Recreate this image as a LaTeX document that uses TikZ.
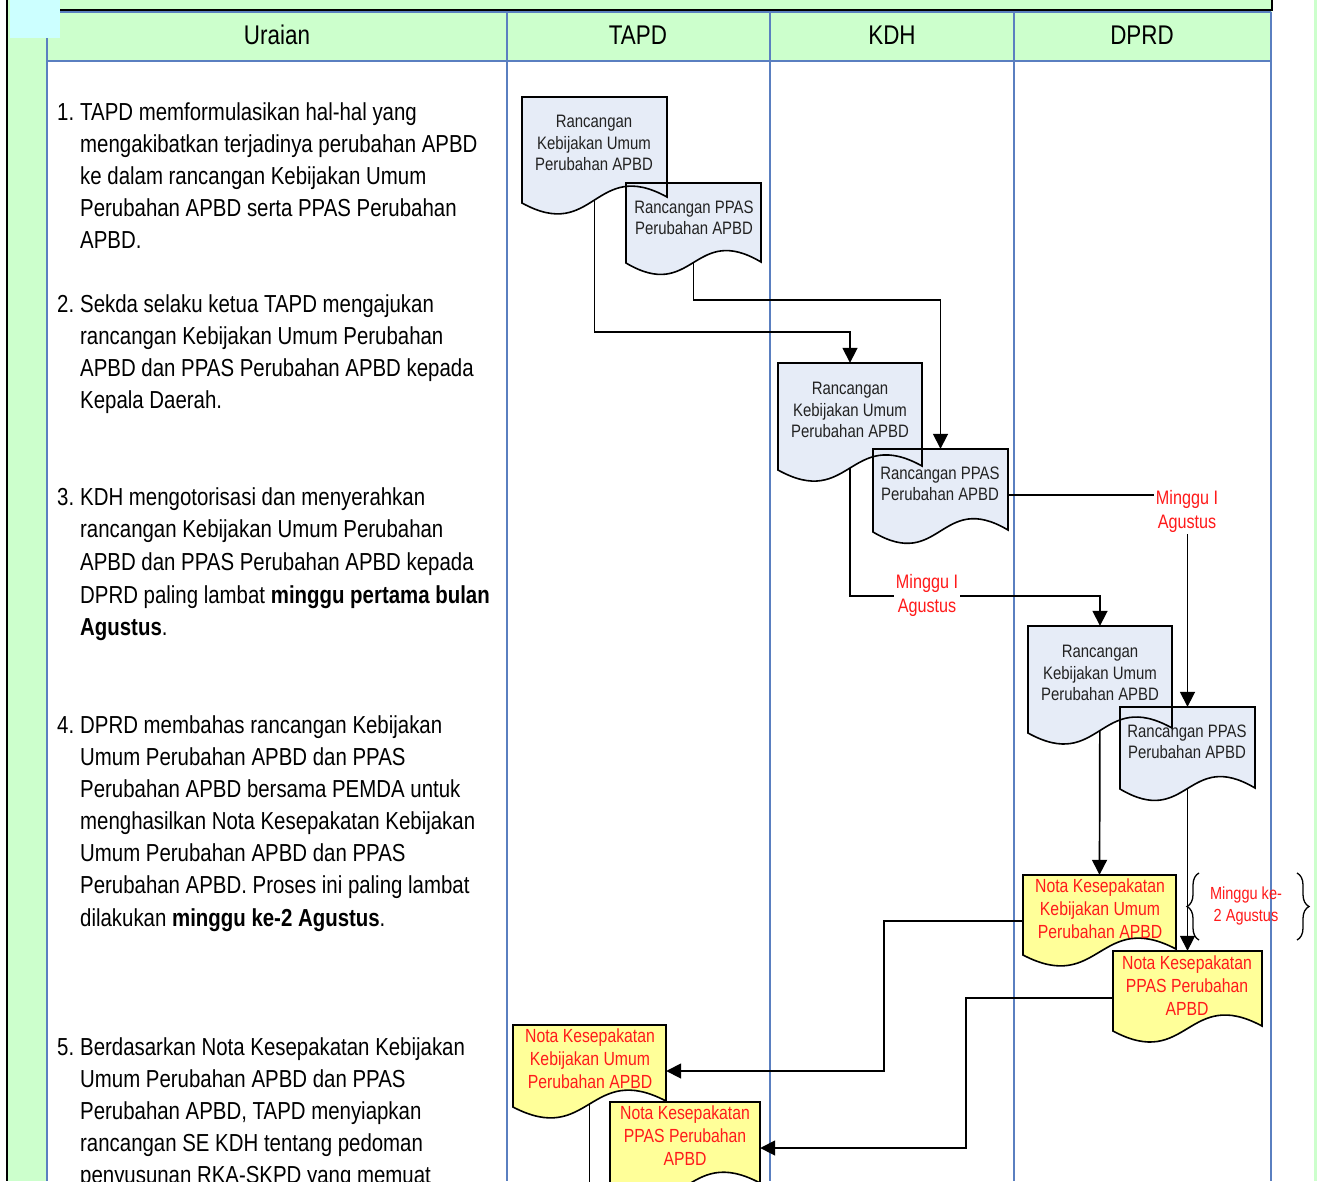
\documentclass[tikz,border=0pt]{standalone}
\usepackage{fontspec}
\setmainfont{Liberation Sans}[FakeStretch=0.83]
\usetikzlibrary{arrows.meta,decorations.pathreplacing,calc}
\definecolor{hdrgreen}{HTML}{CCFFCC}
\definecolor{cyanbox}{HTML}{CCFFFF}
\definecolor{colblue}{HTML}{5A7FC0}
\definecolor{docblue}{HTML}{E6ECF7}
\definecolor{docyellow}{HTML}{FFFF99}
\definecolor{txtred}{HTML}{FF1A1A}
\definecolor{doctext}{HTML}{222222}
\newcommand\docfill[6]{\fill[#6] (#1,#2) -- (#3,#2) -- (#3,#5) .. controls ({(#1+#3)/2},{#5-40}) and ({(#1+#3)/2},{#4+40}) .. (#1,#4) -- cycle;}
\newcommand\docdraw[5]{\draw[docline] (#1,#2) -- (#3,#2) -- (#3,#5) .. controls ({(#1+#3)/2},{#5-40}) and ({(#1+#3)/2},{#4+40}) .. (#1,#4) -- cycle;}
\newcommand\numline[3]{\node[bodytxt, anchor=base west] (n#1) at (57,#2+8.5) {#3};}
\newcommand\tline[3]{\node[bodytxt, anchor=base west] (t#1) at (80,#2+8.5) {#3};}
\begin{document}
\begin{tikzpicture}[x=1pt,y=-1pt,
  bodytxt/.style={inner sep=0pt, font=\fontsize{24.6}{32}\selectfont, text=black},
  hdrtxt/.style={inner sep=0pt, font=\fontsize{27}{32}\selectfont, text=black},
  docbox/.style={draw=none, inner sep=0pt, rectangle},
  doctxt/.style={inner sep=0pt, align=center, font=\fontsize{18}{21.5}\selectfont, text=doctext},
  notatxt/.style={inner sep=0pt, align=center, font=\fontsize{19}{23}\selectfont, text=txtred},
  redlab/.style={inner sep=2pt, align=center, fill=white, font=\fontsize{19.5}{24}\selectfont, text=txtred},
  bracelab/.style={inner sep=0pt, align=center, font=\fontsize{17.5}{22}\selectfont, text=txtred},
  docline/.style={draw=black, line width=1.6pt, line join=miter},
  conn/.style={draw=black, line width=1.7pt, -{Triangle[length=15pt,width=15pt]}},
  plain/.style={draw=black, line width=1.7pt},
  colline/.style={draw=colblue, line width=1.3pt},
  bracestyle/.style={draw=black, line width=1.3pt, decorate, decoration={brace, amplitude=12pt}}
]
\useasboundingbox (0,0) rectangle (1317,1181);
\clip (0,0) rectangle (1317,1181);
% background
\fill[white] (0,0) rectangle (1317,1181);
\fill[hdrgreen] (8,0) rectangle (1272,1181);
\fill[hdrgreen] (1314,0) rectangle (1317,1181);
\fill[cyanbox] (10,0) rectangle (60,38);
\fill[white] (47,61) rectangle (1271,1181);
% grid lines
\draw[colline] (60,12) -- (1271,12);
\draw[colline] (47,61) -- (1271,61);
\draw[colline] (47,38) -- (47,1181);
\draw[colline] (507,12) -- (507,1181);
\draw[colline] (770,12) -- (770,1181);
\draw[colline] (1014,12) -- (1014,1181);
\draw[colline] (1271,12) -- (1271,1181);
\draw[black, line width=2pt] (60,10) -- (1272,10) -- (1272,0);
\draw[black, line width=2.2pt] (7,0) -- (7,1181);
% header
\node[hdrtxt] (hU) at (277,35) {Uraian};
\node[hdrtxt] (hT) at (638,35) {TAPD};
\node[hdrtxt] (hK) at (892,35) {KDH};
\node[hdrtxt] (hD) at (1142,35) {DPRD};
% left column text
\numline{1}{112}{1.}
\tline{1a}{112}{TAPD memformulasikan hal-hal yang}
\tline{1b}{144}{mengakibatkan terjadinya perubahan APBD}
\tline{1c}{176}{ke dalam rancangan Kebijakan Umum}
\tline{1d}{208}{Perubahan APBD serta PPAS Perubahan}
\tline{1e}{240}{APBD.}
\numline{2}{304}{2.}
\tline{2a}{304}{Sekda selaku ketua TAPD mengajukan}
\tline{2b}{336}{rancangan Kebijakan Umum Perubahan}
\tline{2c}{368}{APBD dan PPAS Perubahan APBD kepada}
\tline{2d}{400}{Kepala Daerah.}
\numline{3}{497}{3.}
\tline{3a}{497}{KDH mengotorisasi dan menyerahkan}
\tline{3b}{529}{rancangan Kebijakan Umum Perubahan}
\tline{3c}{562}{APBD dan PPAS Perubahan APBD kepada}
\tline{3d}{595}{DPRD paling lambat \textbf{minggu pertama bulan}}
\tline{3e}{627}{\textbf{Agustus}.}
\numline{4}{725}{4.}
\tline{4a}{725}{DPRD membahas rancangan Kebijakan}
\tline{4b}{757}{Umum Perubahan APBD dan PPAS}
\tline{4c}{789}{Perubahan APBD bersama PEMDA untuk}
\tline{4d}{821}{menghasilkan Nota Kesepakatan Kebijakan}
\tline{4e}{853}{Umum Perubahan APBD dan PPAS}
\tline{4f}{885}{Perubahan APBD. Proses ini paling lambat}
\tline{4g}{918}{dilakukan \textbf{minggu ke-2 Agustus}.}
\numline{5}{1047}{5.}
\tline{5a}{1047}{Berdasarkan Nota Kesepakatan Kebijakan}
\tline{5b}{1079}{Umum Perubahan APBD dan PPAS}
\tline{5c}{1111}{Perubahan APBD, TAPD menyiapkan}
\tline{5d}{1143}{rancangan SE KDH tentang pedoman}
\tline{5e}{1175}{penyusunan RKA-SKPD yang memuat}
% document anchor boxes (invisible)
\node[docbox, minimum width=145, minimum height=106] (docA) at (594.5,150) {};
\node[docbox, minimum width=135, minimum height=80] (docB) at (693.5,223) {};
\node[docbox, minimum width=144, minimum height=107] (docC) at (850,416.5) {};
\node[docbox, minimum width=135, minimum height=83] (docD) at (940.5,490.5) {};
\node[docbox, minimum width=144, minimum height=107] (docE) at (1100,679.5) {};
\node[docbox, minimum width=135, minimum height=82] (docF) at (1187.5,748) {};
\node[docbox, minimum width=153, minimum height=80] (docG) at (1099.5,915) {};
\node[docbox, minimum width=149, minimum height=80] (docH) at (1187.5,991) {};
\node[docbox, minimum width=153, minimum height=82] (docI) at (589.5,1066) {};
\node[docbox, minimum width=150, minimum height=92] (docJ) at (685,1148) {};
\coordinate (bottomI) at (589.5,1195);
% connectors
\draw[conn] (docA.center) |- (docC.north |- 0,332) -- (docC.north);
\draw[conn] (docB.center) |- (docD.north |- 0,300) -- (docD.north);
\draw[conn] (docC.center) |- (docE.north |- 0,596) -- (docE.north);
\draw[conn] ([yshift=-4.5pt]docD.east) -| (docF.north);
\draw[conn] (docE.center) -- (docG.north);
\draw[conn] (docF.center) -- (docH.north);
\draw[conn] ([yshift=-6pt]docG.west) -- (884,921) -- (884,1071) -- ([yshift=-5pt]docI.east);
\draw[conn] ([yshift=-7pt]docH.west) -- (966,998) -- (966,1148) -- (docJ.east);
\draw[plain] (docI.center) -- (bottomI);
% document fills
\docfill{522}{97}{667}{203}{197}{docblue}
\docfill{626}{183}{761}{263}{262}{docblue}
\docfill{778}{363}{922}{470}{466}{docblue}
\docfill{873}{449}{1008}{532}{530}{docblue}
\docfill{1028}{626}{1172}{733}{728}{docblue}
\docfill{1120}{707}{1255}{789}{788}{docblue}
\docfill{1023}{875}{1176}{955}{949}{docyellow}
\docfill{1113}{951}{1262}{1031}{1026}{docyellow}
\docfill{513}{1025}{666}{1107}{1101}{docyellow}
\docfill{610}{1102}{760}{1190}{1183}{docyellow}
% document outlines
\docdraw{522}{97}{667}{203}{197}
\docdraw{626}{183}{761}{263}{262}
\docdraw{778}{363}{922}{470}{466}
\docdraw{873}{449}{1008}{532}{530}
\docdraw{1028}{626}{1172}{733}{728}
\docdraw{1120}{707}{1255}{789}{788}
\docdraw{1023}{875}{1176}{955}{949}
\docdraw{1113}{951}{1262}{1031}{1026}
\docdraw{513}{1025}{666}{1107}{1101}
\docdraw{610}{1102}{760}{1190}{1183}
% document texts
\node[doctxt] (docAt) at (594,143) {Rancangan\\Kebijakan Umum\\Perubahan APBD};
\node[doctxt] (docBt) at (694,218) {Rancangan PPAS\\Perubahan APBD};
\node[doctxt] (docCt) at (850,410) {Rancangan\\Kebijakan Umum\\Perubahan APBD};
\node[doctxt] (docDt) at (940,484) {Rancangan PPAS\\Perubahan APBD};
\node[doctxt] (docEt) at (1100,673) {Rancangan\\Kebijakan Umum\\Perubahan APBD};
\node[doctxt] (docFt) at (1187,742) {Rancangan PPAS\\Perubahan APBD};
\node[notatxt] (docGt) at (1100,909) {Nota Kesepakatan\\Kebijakan Umum\\Perubahan APBD};
\node[notatxt] (docHt) at (1187,986) {Nota Kesepakatan\\PPAS Perubahan\\APBD};
\node[notatxt] (docIt) at (590,1059) {Nota Kesepakatan\\Kebijakan Umum\\Perubahan APBD};
\node[notatxt] (docJt) at (685,1136) {Nota Kesepakatan\\PPAS Perubahan\\APBD};
% labels
\node[redlab] (labC) at (927,595) {Minggu I\\Agustus};
\node[redlab] (labD) at (1187,511) {Minggu I\\Agustus};
\node[bracelab] (labBr) at (1246,906) {Minggu ke-\\2 Agustus};
\draw[bracestyle] (1199,940) -- (1199,873);
\draw[bracestyle] (1297,873) -- (1297,940);
\end{tikzpicture}
\end{document}
